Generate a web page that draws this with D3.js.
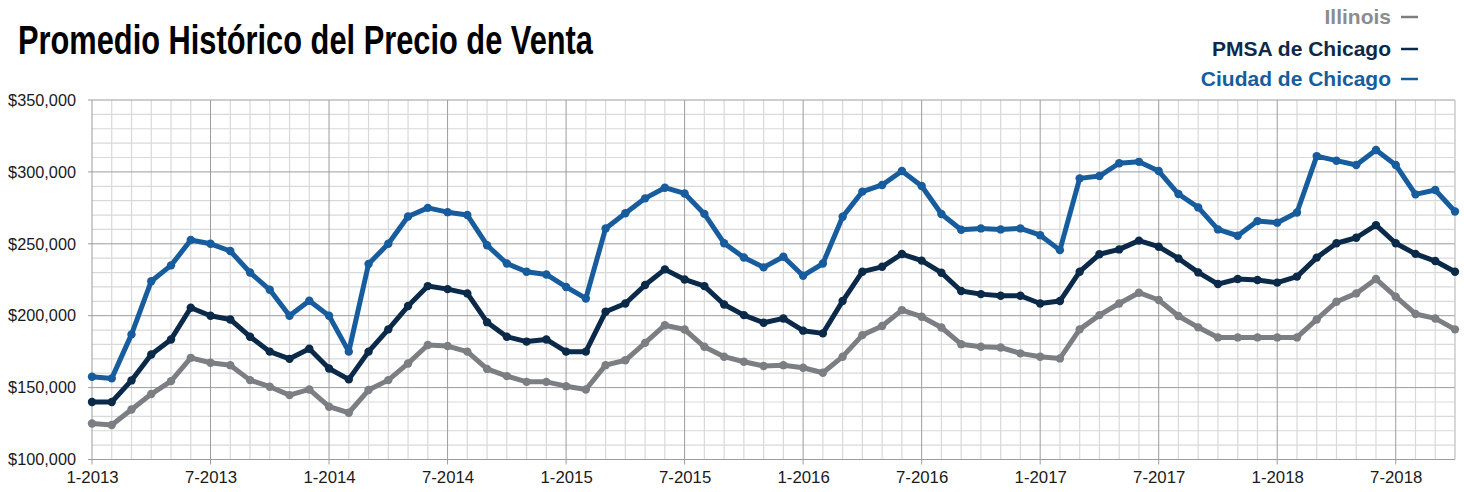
<!DOCTYPE html>
<html><head><meta charset="utf-8">
<script src="https://cdn.jsdelivr.net/npm/d3@7"></script>
<style>body{margin:0;background:#fff;}svg{display:block;}</style>
</head><body>
<svg id="c" width="1464" height="492"></svg>
<script>
const tickLabels = ["1-2013","7-2013","1-2014","7-2014","1-2015","7-2015","1-2016","7-2016","1-2017","7-2017","1-2018","7-2018"];
const months = d3.range(70); // Jan 2013 .. Oct 2018
const illinois = [125000,124000,134800,145500,154500,170700,167300,165600,155200,150600,144800,148700,136700,132500,148300,155200,166800,179600,178900,175000,
  163000,158000,154000,154000,151000,148700,165600,169000,181100,193400,190400,178400,171500,168000,165000,165600,163800,160300,171500,186500,
  192800,203900,199300,191800,180200,178400,177900,173800,171500,170300,190500,200400,208500,216000,210900,199800,191900,184900,184900,184900,
  184900,184900,197400,209700,215500,225500,213200,201200,198100,190500];
const pmsa = [140000,140000,155000,173000,183500,205500,200000,197400,185400,175000,170000,177000,163300,155700,175000,190500,206700,220600,218500,215500,
  195500,185400,182000,183500,175000,175000,202700,208500,221300,232200,225200,220600,207800,200400,195100,198100,189600,187700,210200,230600,
  234000,242900,238300,229900,217200,215000,213900,213900,208500,210200,230600,242700,246100,252200,248000,239800,230100,222000,225500,224800,
  223000,227200,240400,250400,254200,263000,250400,243000,238000,230600];
const ciudad = [157500,156400,187000,224000,235000,252600,250000,245000,230000,218000,200000,210400,200000,175000,236000,250000,269000,275000,272000,270000,
  249000,236300,230600,228700,220000,212000,260700,271200,281600,289000,285000,270800,250400,240500,233600,241000,227800,236300,268800,286300,
  290900,300600,290200,270700,259800,260700,260000,260700,256000,245600,295500,297100,306000,307000,300600,284600,275300,260000,255600,265800,
  264700,271800,311000,307800,304800,315200,304800,284400,287400,272500];
const seriesNames = ["Illinois","PMSA de Chicago","Ciudad de Chicago"];
const seriesColors = ["#7b7e82","#0b2949","#175c9c"];
const legendTextColors = ["#8c8c8c","#0b2949","#175c9c"];
const yTicks = [100000,150000,200000,250000,300000,350000];

const svg = d3.select("#c");
const L = 92, R = 1455, T = 100, B = 459.5;
const x = d3.scaleLinear().domain([0,69]).range([L,R]);
const y = d3.scaleLinear().domain([100000,350000]).range([B,T]);

const g = svg.append("g");
// minor grid
g.append("g").selectAll("line").data(d3.range(100000,350001,10000).filter(v=>v%50000))
  .join("line").attr("x1",L).attr("x2",R).attr("y1",d=>y(d)).attr("y2",d=>y(d))
  .attr("stroke","#d9d9d9").attr("stroke-width",1.2);
g.append("g").selectAll("line").data(months.filter(i=>i%6))
  .join("line").attr("x1",d=>x(d)).attr("x2",d=>x(d)).attr("y1",T).attr("y2",B)
  .attr("stroke","#d9d9d9").attr("stroke-width",1.2);
// major grid
g.append("g").selectAll("line").data(yTicks)
  .join("line").attr("x1",L-4).attr("x2",R).attr("y1",d=>y(d)).attr("y2",d=>y(d))
  .attr("stroke","#9c9c9c").attr("stroke-width",1);
g.append("g").selectAll("line").data(months.filter(i=>i%6===0))
  .join("line").attr("x1",d=>x(d)).attr("x2",d=>x(d)).attr("y1",T).attr("y2",B+5)
  .attr("stroke","#9c9c9c").attr("stroke-width",1);
g.append("line").attr("x1",R).attr("x2",R).attr("y1",T).attr("y2",B).attr("stroke","#c8c8c8");

// y axis labels
const yAxis = d3.axisLeft(y).tickValues(yTicks).tickSize(0).tickPadding(0)
  .tickFormat(d=>"$"+d3.format(",")(d));
const ya = svg.append("g").attr("transform",`translate(${L-16},0)`).call(yAxis);
ya.select(".domain").remove();
ya.selectAll("text").attr("font-family","'Liberation Sans',Arial,sans-serif").attr("font-size",16.3).attr("fill","#1a1a1a");

// x axis labels
const xAxis = d3.axisBottom(x).tickValues(months.filter(i=>i%6===0)).tickSize(0).tickPadding(0)
  .tickFormat((d,i)=>tickLabels[i]);
const xa = svg.append("g").attr("transform",`translate(0,${B+12})`).call(xAxis);
xa.select(".domain").remove();
xa.selectAll("text").attr("font-family","'Liberation Sans',Arial,sans-serif").attr("font-size",16.8).attr("fill","#1a1a1a");

// series
const data = [illinois,pmsa,ciudad];
const line = d3.line().x((d,i)=>x(i)).y(d=>y(d));
data.forEach((vals,k)=>{
  svg.append("path").datum(vals).attr("d",line).attr("fill","none")
    .attr("stroke",seriesColors[k]).attr("stroke-width",5).attr("stroke-linejoin","round").attr("stroke-linecap","round");
  svg.append("g").selectAll("circle").data(vals).join("circle")
    .attr("cx",(d,i)=>x(i)).attr("cy",d=>y(d)).attr("r",4.2).attr("fill",seriesColors[k]);
});

// title
const title = svg.append("text").attr("x",18).attr("y",54)
  .attr("font-family","'Liberation Sans',Arial,sans-serif")
  .attr("font-weight","bold").attr("font-size",40).attr("fill","#000")
  .text("Promedio Histórico del Precio de Venta");
title.attr("textLength",575).attr("lengthAdjust","spacingAndGlyphs");

// legend
const legY = [24,56,86];
seriesNames.forEach((n,k)=>{
  svg.append("text").attr("x",1391).attr("y",legY[k]).attr("text-anchor","end")
    .attr("font-family","'Liberation Sans',Arial,sans-serif").attr("font-weight","bold")
    .attr("font-size",21).attr("fill",legendTextColors[k]).text(n);
  svg.append("line").attr("x1",1401).attr("x2",1418).attr("y1",legY[k]-7).attr("y2",legY[k]-7)
    .attr("stroke",seriesColors[k]).attr("stroke-width",2.5);
});
</script>
</body></html>
